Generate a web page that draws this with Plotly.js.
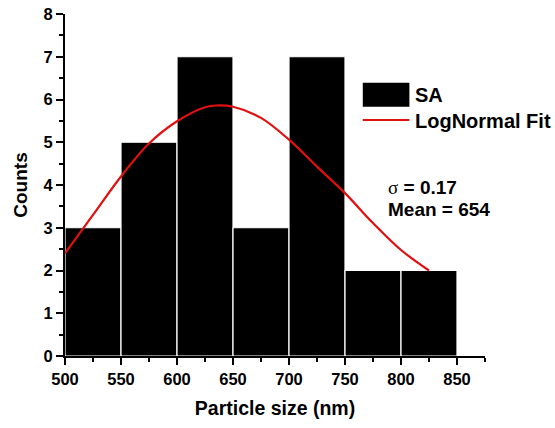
<!DOCTYPE html>
<html>
<head>
<meta charset="utf-8">
<script src="https://cdn.plot.ly/plotly-3.0.1.min.js"></script>
<style>html,body{margin:0;padding:0;background:#fff;}#chart{width:555px;height:428px;}</style>
</head>
<body>
<div id="chart"></div>
<script>
// Histogram bins (centers, nm) and counts
const binCenters = [525, 575, 625, 675, 725, 775, 825];
const binCounts = [3, 5, 7, 3, 7, 2, 2];
const binWidth = 50;

// LogNormal fit curve
const fitX = [500, 525, 550, 575, 600, 625, 635, 650, 675, 700, 725, 750, 775, 800, 825];
const fitY = [2.40, 3.30, 4.20, 4.97, 5.49, 5.82, 5.86, 5.83, 5.57, 5.06, 4.43, 3.81, 3.11, 2.48, 2.00];

const xTicks = [500, 550, 600, 650, 700, 750, 800, 850];
const yTicks = [0, 1, 2, 3, 4, 5, 6, 7, 8];

const F = "Liberation Sans, Arial, sans-serif";

const traces = [
  {
    type: 'bar', x: binCenters, y: binCounts, width: binWidth,
    name: 'SA',
    marker: {color: '#000000', line: {color: '#ffffff', width: 1.2}},
    showlegend: false, hoverinfo: 'x+y'
  },
  {
    type: 'scatter', mode: 'lines', x: fitX, y: fitY,
    name: 'LogNormal Fit', line: {color: '#e01010', width: 2.2, shape: 'spline'},
    showlegend: false
  }
];

const layout = {
  width: 555, height: 428,
  margin: {l: 65, r: 70, t: 14, b: 72},
  paper_bgcolor: '#ffffff', plot_bgcolor: '#ffffff',
  font: {family: F, color: '#000'},
  bargap: 0,
  xaxis: {
    range: [500, 875], tickvals: xTicks, ticktext: xTicks.map(String),
    showgrid: false, zeroline: false,
    showline: true, linecolor: '#000', linewidth: 2,
    ticks: 'outside', ticklen: 7, tickwidth: 2, tickcolor: '#000',
    minor: {ticks: 'outside', ticklen: 4, tickwidth: 2, tickcolor: '#000', dtick: 25, tick0: 500, showgrid: false},
    tickfont: {family: F, size: 16.5, weight: 'bold'},
    title: {text: 'Particle size (nm)', font: {family: F, size: 19.5, weight: 'bold'}, standoff: 15}
  },
  yaxis: {
    range: [0, 8], tickvals: yTicks, ticktext: yTicks.map(String),
    showgrid: false, zeroline: false,
    showline: true, linecolor: '#000', linewidth: 2,
    ticks: 'outside', ticklen: 7, tickwidth: 2, tickcolor: '#000',
    minor: {ticks: 'outside', ticklen: 4, tickwidth: 2, tickcolor: '#000', dtick: 0.5, tick0: 0, showgrid: false},
    tickfont: {family: F, size: 16.5, weight: 'bold'},
    title: {text: 'Counts', font: {family: F, size: 19, weight: 'bold'}, standoff: 11}
  },
  shapes: [
    {type: 'rect', xref: 'paper', yref: 'paper', x0: 0.709, x1: 0.820, y0: 0.729, y1: 0.799,
     fillcolor: '#000', line: {width: 0}},
    {type: 'line', xref: 'paper', yref: 'paper', x0: 0.709, x1: 0.820, y0: 0.690, y1: 0.690,
     line: {color: '#e01010', width: 2.2}}
  ],
  annotations: [
    {xref: 'paper', yref: 'paper', x: 0.828, y: 0.764, xanchor: 'left', yanchor: 'middle', showarrow: false,
     text: 'SA', font: {family: F, size: 20, weight: 'bold', color: '#000'}},
    {xref: 'paper', yref: 'paper', x: 0.828, y: 0.688, xanchor: 'left', yanchor: 'middle', showarrow: false,
     text: 'LogNormal Fit', font: {family: F, size: 20, weight: 'bold', color: '#000'}},
    {xref: 'paper', yref: 'paper', x: 0.764, y: 0.494, xanchor: 'left', yanchor: 'middle', showarrow: false,
     text: '<span style="font-family:Liberation Serif,serif;font-weight:normal">σ</span> = 0.17', font: {family: F, size: 19, weight: 'bold', color: '#000'}},
    {xref: 'paper', yref: 'paper', x: 0.764, y: 0.427, xanchor: 'left', yanchor: 'middle', showarrow: false,
     text: 'Mean = 654', font: {family: F, size: 19, weight: 'bold', color: '#000'}}
  ]
};

Plotly.newPlot('chart', traces, layout, {displayModeBar: false, staticPlot: true});
</script>
</body>
</html>
